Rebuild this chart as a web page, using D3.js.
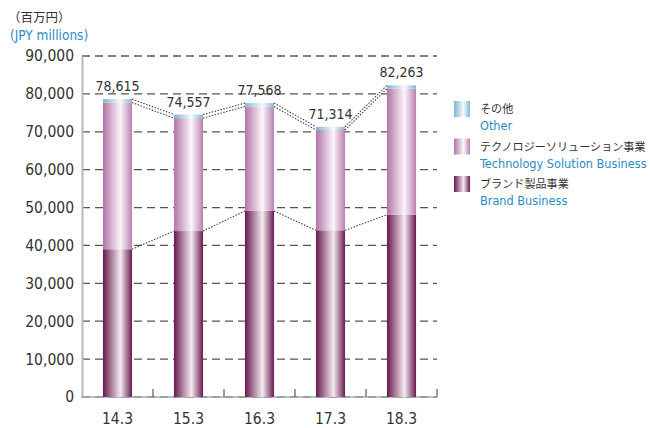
<!DOCTYPE html>
<html><head><meta charset="utf-8">
<script src="https://cdn.jsdelivr.net/npm/d3@7"></script>
<style>body{margin:0;background:#fff}svg{display:block}</style>
</head><body><svg id="c" width="650" height="428"></svg>
<script>
const categories = ["14.3","15.3","16.3","17.3","18.3"];
const totals = [78615, 74557, 77568, 71314, 82263];
const brand = [39000, 43800, 49100, 44000, 48100];
const other = [900, 950, 900, 850, 900];
const tech = totals.map((t,i)=>t-brand[i]-other[i]);
const yTicks = [0,10000,20000,30000,40000,50000,60000,70000,80000,90000];
const legendJa = ["その他","テクノロジーソリューション事業","ブランド製品事業"];
const legendEn = ["Other","Technology Solution Business","Brand Business"];

const svg = d3.select("#c");
const numFont = "'DejaVu Sans Condensed','DejaVu Sans',sans-serif";
const jaFont = "'Noto Sans CJK JP',sans-serif";
const x = d3.scaleBand().domain(categories).range([82,437]).paddingInner(0.59).paddingOuter(0.295);
const y = d3.scaleLinear().domain([0,90000]).range([397,56]);

const defs = svg.append("defs");
const grads = {
  other:[["0%","#7fb6cf"],["60%","#f4fafd"],["100%","#7fb6cf"]],
  tech:[["0%","#b275a6"],["60%","#fcf5fb"],["100%","#ba80b2"]],
  brand:[["0%","#67184d"],["60%","#f3eaf0"],["100%","#6a1b51"]]
};
Object.entries(grads).forEach(([k,st])=>{
  const g = defs.append("linearGradient").attr("id","g_"+k).attr("x1","0").attr("x2","1").attr("y1","0").attr("y2","0");
  st.forEach(s=>g.append("stop").attr("offset",s[0]).attr("stop-color",s[1]));
});

// labels top-left
svg.append("text").attr("x",8).attr("y",22).attr("font-family",jaFont).attr("font-size",12.5).attr("fill","#333").text("（百万円）");
svg.append("text").attr("x",10).attr("y",40).attr("font-family",numFont).attr("font-size",13.5).attr("fill","#2b8cc4").text("(JPY millions)");

// gridlines
svg.append("g").selectAll("line").data(yTicks).join("line")
  .attr("x1",82).attr("x2",437).attr("y1",d=>y(d)).attr("y2",d=>y(d))
  .attr("stroke","#555").attr("stroke-width",1.3).attr("stroke-dasharray","8,5");

// axes
const yAxis = svg.append("g").attr("transform","translate(82,0)")
  .call(d3.axisLeft(y).tickValues(yTicks).tickSize(0).tickPadding(8).tickFormat(d3.format(",")));
yAxis.select(".domain").attr("stroke","#b5b9bd").attr("stroke-width",2);
yAxis.selectAll("text").attr("font-family",numFont).attr("font-size",15.5).attr("fill","#333");

const xAxis = svg.append("g").attr("transform","translate(0,397)")
  .call(d3.axisBottom(x).tickSize(0).tickPadding(16));
xAxis.select(".domain").remove();
xAxis.selectAll("text").attr("font-family",numFont).attr("font-size",15.5).attr("fill","#333");
svg.append("line").attr("x1",81).attr("x2",437).attr("y1",397).attr("y2",397).attr("stroke","#a8acb0").attr("stroke-width",1.5);
svg.append("g").selectAll("line").data(categories).join("line")
  .attr("x1",d=>x(d)+x.bandwidth()+x.step()*x.paddingInner()/2).attr("x2",d=>x(d)+x.bandwidth()+x.step()*x.paddingInner()/2)
  .attr("y1",397).attr("y2",389).attr("stroke","#666").attr("stroke-width",1.3);

// bars
const stack = categories.map((c,i)=>({c, segs:[
  {k:"brand", y0:0, y1:brand[i]},
  {k:"tech", y0:brand[i], y1:brand[i]+tech[i]},
  {k:"other", y0:brand[i]+tech[i], y1:totals[i]}
]}));
const bars = svg.append("g");
stack.forEach(s=>{
  bars.selectAll(null).data(s.segs).join("rect")
    .attr("x",x(s.c)).attr("width",x.bandwidth())
    .attr("y",d=>y(d.y1)).attr("height",d=>y(d.y0)-y(d.y1))
    .attr("fill",d=>"url(#g_"+d.k+")");
});

// connectors
function connect(vals){
  svg.append("g").selectAll("line").data(vals.slice(0,-1)).join("line")
    .attr("x1",(d,i)=>x(categories[i])+x.bandwidth()).attr("y1",d=>y(d))
    .attr("x2",(d,i)=>x(categories[i+1])).attr("y2",(d,i)=>y(vals[i+1]))
    .attr("stroke","#444").attr("stroke-width",1.1).attr("stroke-dasharray","1.5,1.5");
}
connect(totals);
connect(totals.map((t,i)=>t-other[i]));
connect(brand);

// value labels
svg.append("g").selectAll("text").data(totals).join("text")
  .attr("x",(d,i)=>x(categories[i])+x.bandwidth()/2).attr("y",d=>y(d)-8)
  .attr("text-anchor","middle").attr("font-family",numFont).attr("font-size",14).attr("fill","#333")
  .text(d=>d3.format(",")(d));

// legend
const lk = ["other","tech","brand"];
const lg = svg.append("g");
lk.forEach((k,i)=>{
  const ty = 101 + i*37.5;
  lg.append("rect").attr("x",454).attr("y",ty).attr("width",16).attr("height",16).attr("fill","url(#g_"+k+")");
  lg.append("text").attr("x",480).attr("y",ty+12).attr("font-family",jaFont).attr("font-size",11.1).attr("fill","#333").text(legendJa[i]);
  lg.append("text").attr("x",480).attr("y",ty+29).attr("font-family",numFont).attr("font-size",12.6).attr("fill","#2b8cc4").text(legendEn[i]);
});
</script></body></html>
